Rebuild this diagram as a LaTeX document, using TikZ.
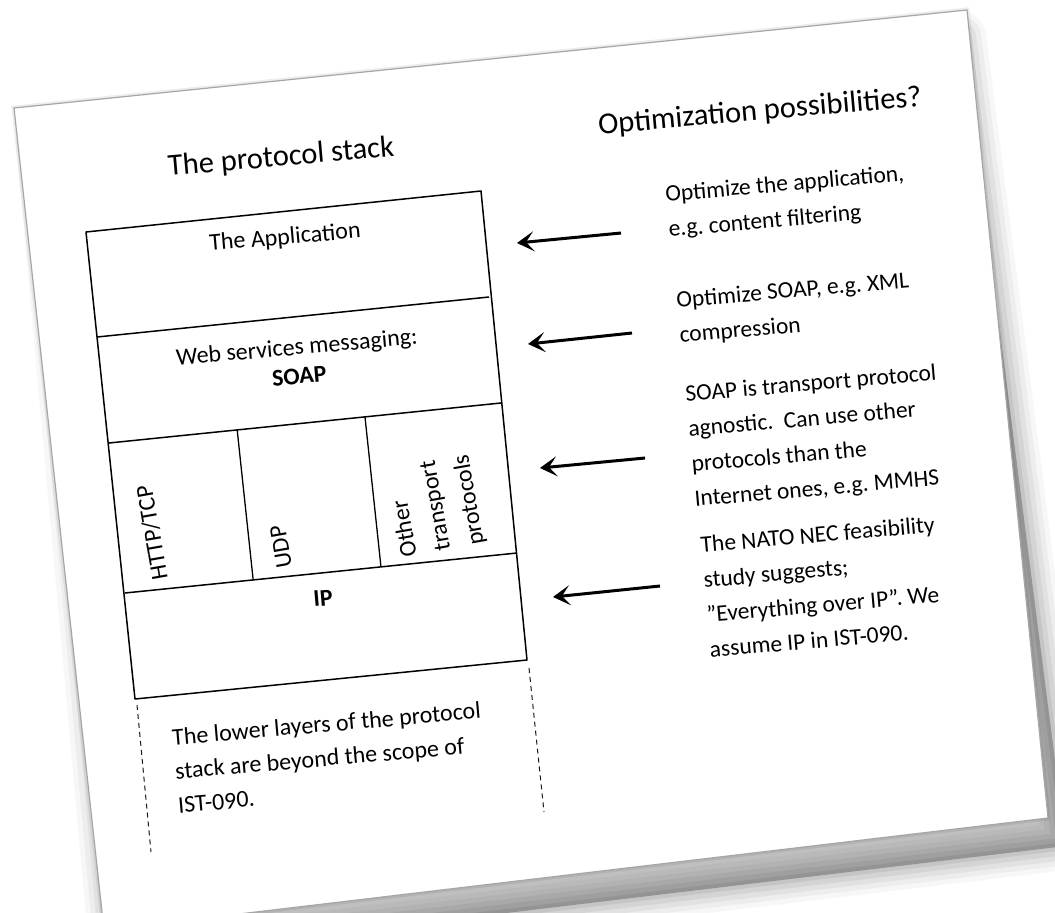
\documentclass[tikz,border=0pt]{standalone}
\usepackage{fontspec}
\setmainfont{Carlito}
\usetikzlibrary{arrows.meta,calc}
\frenchspacing

\begin{document}
\begin{tikzpicture}[x=1pt,y=-1pt,
  layer/.style={line width=1.5pt,line join=round},
  inbox/.style={inner sep=0pt,rotate=5,font=\fontsize{24}{29}\selectfont},
  heading/.style={inner sep=0pt,rotate=5,font=\fontsize{30.5}{36}\selectfont},
  note/.style={inner sep=0pt,rotate=5,anchor=west,align=left,font=\fontsize{23.5}{35}\selectfont},
  arr/.style={line width=3pt,-{Stealth[length=17pt,width=20pt,inset=8pt]}},
  lower/.style={line width=1pt,gray!20!black,dash pattern=on 5pt off 4pt}]
\useasboundingbox (0,0) rectangle (1055,913);
\clip (0,0) rectangle (1055,913);

% the tilted page
\coordinate (p1) at (14,108);
\coordinate (p2) at (967,10);
\coordinate (p3) at (1048,818);
\coordinate (p4) at (104,930);
\coordinate (s1) at (40,140);
\coordinate (s2) at (962,36);
\coordinate (s3) at (1066,846);
\coordinate (s4) at (114,960);
\fill[black,opacity=0.25] (s1) -- (s2) -- (s3) -- (s4) -- cycle;
\foreach \w/\o in {48/0.03,38/0.04,28/0.05,18/0.06,8/0.07}
  \draw[line width=\w pt,opacity=\o,line join=round] (s1) -- (s2) -- (s3) -- (s4) -- cycle;
\draw[line width=5pt,opacity=0.07] (p1) -- (p2) -- (p3) -- (p4) -- cycle;
\filldraw[fill=white,draw=gray!70,line width=1.2pt] (p1) -- (p2) -- (p3) -- (p4) -- cycle;

% headings
\node[heading] (stack) at (281,158) {The protocol stack};
\node[heading] (optim) at (760,112) {Optimization possibilities?};

% the stack
\coordinate (tl) at (86,232);  \coordinate (tr) at (481,191);
\coordinate (al) at (97,337);  \coordinate (ar) at (489,297);
\coordinate (sl) at (109,443); \coordinate (sr) at (501,403);
\coordinate (il) at (125,593); \coordinate (ir) at (517,553);
\coordinate (bl) at (135,699); \coordinate (br) at (527,660);
\draw[layer] (tl) -- (tr) -- (br) -- (bl) -- cycle;
\foreach \r in {a,s,i}
  \draw[layer] (\r l) -- (\r r);
\foreach \t in {0.327,0.653}
  \draw[line width=1.3pt] ($(sl)!\t!(sr)$) -- ($(il)!\t!(ir)$);

\node[inbox] (app) at (285,238) {The Application};
\node[inbox,align=center] (soap) at (298,361) {Web services messaging:\\\textbf{SOAP}};
\node[inbox,rotate=95] (http) at (152,533) {HTTP/TCP};
\node[inbox,rotate=95] (udp) at (281,547) {UDP};
\node[inbox,rotate=95,anchor=west,align=left,font=\fontsize{24}{34}\selectfont]
  (other) at (444,551) {Other\\transport\\protocols};
\node[inbox] (ip) at (323,598) {\textbf{IP}};

% below the stack
\coordinate (dl1) at (137,705); \coordinate (dl2) at (151,852);
\coordinate (dr1) at (529,668); \coordinate (dr2) at (544,812);
\draw[lower] (dl1) -- (dl2);
\draw[lower] (dr1) -- (dr2);
\node[note,font=\fontsize{24}{34}\selectfont] (scope) at (175,771)
  {The lower layers of the protocol\\stack are beyond the scope of\\IST-090.};

% optimization notes
\node[note] (n1) at (667,213) {Optimize the application,\\e.g. content filtering};
\node[note] (n2) at (678,319) {Optimize SOAP, e.g. XML\\compression};
\node[note] (n3) at (690,448) {SOAP is transport protocol\\agnostic.\ \ Can use other\\protocols than the\\Internet ones, e.g. MMHS};
\node[note] (n4) at (705,597) {The NATO NEC feasibility\\study suggests;\\”Everything over IP”. We\\assume IP in IST-090.};

\coordinate (a1) at (621,233); \coordinate (b1) at (517,243);
\coordinate (a2) at (632,333); \coordinate (b2) at (528,344);
\coordinate (a3) at (645,458); \coordinate (b3) at (540,468);
\coordinate (a4) at (660,586); \coordinate (b4) at (553,597);
\foreach \k in {1,...,4}
  \draw[arr] (a\k) -- (b\k);
\end{tikzpicture}
\end{document}
